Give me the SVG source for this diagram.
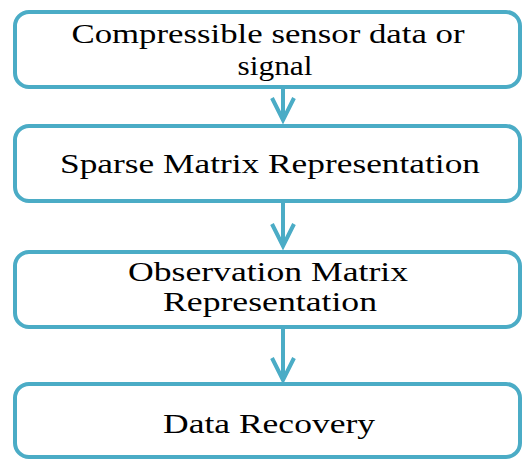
<svg xmlns="http://www.w3.org/2000/svg" width="522" height="460" viewBox="0 0 522 460">
<style>
.box{fill:#fff;stroke:#4BACC6;stroke-width:4}
.t{font-family:"Liberation Serif","Times New Roman",serif;font-size:28px;fill:#000;text-anchor:middle}
.c{fill:none;stroke:#4BACC6;stroke-width:4;stroke-linecap:butt;stroke-linejoin:miter}
</style>
<rect width="522" height="460" fill="#fff"/>
<g id="connectors">
<line class="c" x1="283" y1="88" x2="283" y2="120"/>
<polyline class="c" points="272,98 283,120 294,98"/>
<line class="c" x1="283" y1="202" x2="283" y2="246"/>
<polyline class="c" points="272,224 283,246 294,224"/>
<line class="c" x1="283" y1="328" x2="283" y2="380"/>
<polyline class="c" points="272,358 283,380 294,358"/>
</g>
<g id="n1">
<rect class="box" x="15" y="12" width="505" height="75" rx="14"/>
<text class="t" x="268" y="43" textLength="393" lengthAdjust="spacingAndGlyphs">Compressible sensor data or</text>
<text class="t" x="275" y="75" textLength="75" lengthAdjust="spacingAndGlyphs">signal</text>
</g>
<g id="n2">
<rect class="box" x="15" y="126" width="505" height="75" rx="14"/>
<text class="t" x="270" y="173" textLength="420" lengthAdjust="spacingAndGlyphs">Sparse Matrix Representation</text>
</g>
<g id="n3">
<rect class="box" x="15" y="252" width="505" height="75" rx="14"/>
<text class="t" x="268" y="281" textLength="280" lengthAdjust="spacingAndGlyphs">Observation Matrix</text>
<text class="t" x="270" y="311" textLength="214" lengthAdjust="spacingAndGlyphs">Representation</text>
</g>
<g id="n4">
<rect class="box" x="15" y="384" width="505" height="73" rx="14"/>
<text class="t" x="269" y="433" textLength="212" lengthAdjust="spacingAndGlyphs">Data Recovery</text>
</g>
</svg>
